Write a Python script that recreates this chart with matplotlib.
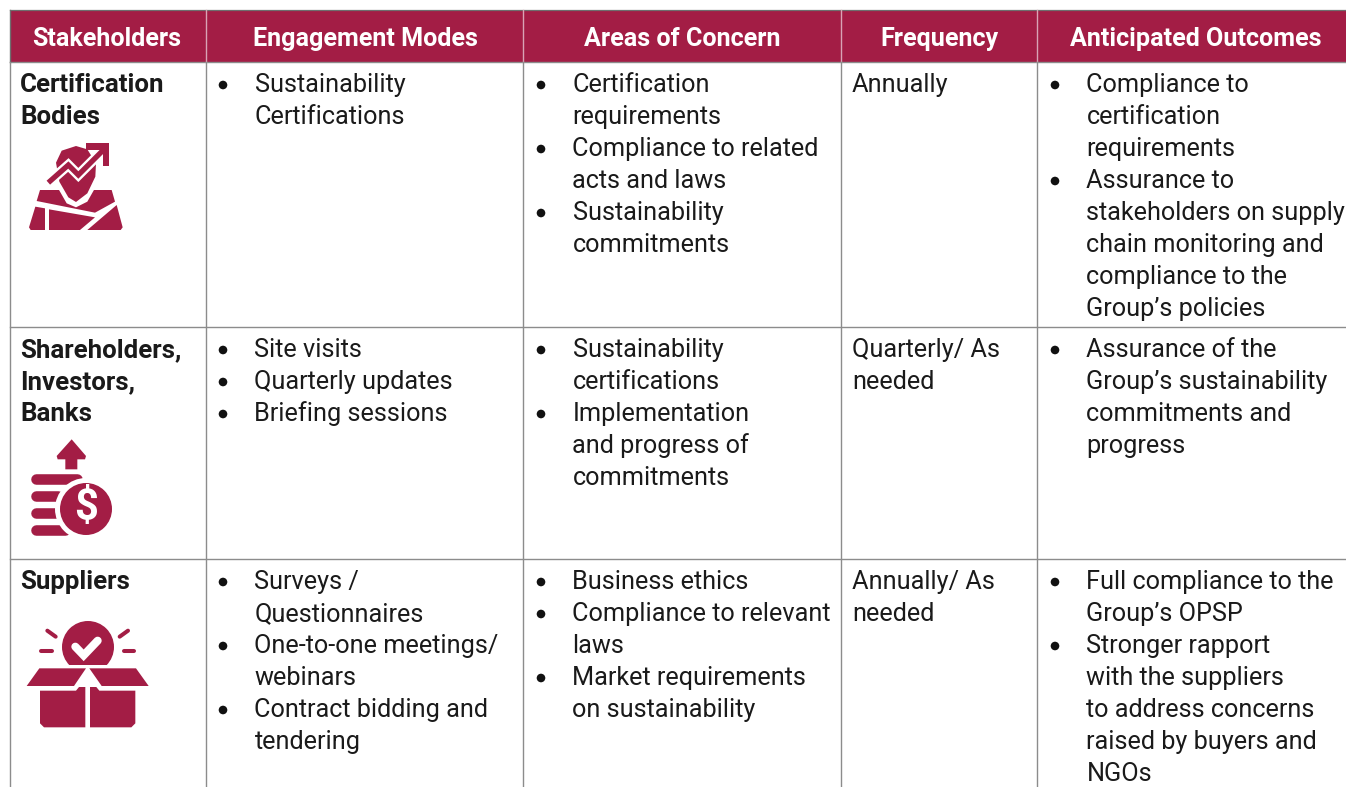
import matplotlib
matplotlib.use("Agg")
import matplotlib.pyplot as plt
from matplotlib.patches import Circle, Polygon, Rectangle

plt.rcParams["font.family"] = "Roboto"

CRIMSON = "#a31d45"
GRID = "#8c8c8c"
INK = "#1a1a1a"

headers = ["Stakeholders", "Engagement Modes", "Areas of Concern", "Frequency", "Anticipated Outcomes"]
col_edges = [10, 206, 523, 841, 1037, 1346]
row_edges = [10, 62, 327, 559, 787]

stakeholders = [
    ["Certification", "Bodies"],
    ["Shareholders,", "Investors,", "Banks"],
    ["Suppliers"],
]
engagement = [
    [["Sustainability", "Certifications"]],
    [["Site visits"], ["Quarterly updates"], ["Briefing sessions"]],
    [["Surveys /", "Questionnaires"], ["One-to-one meetings/", "webinars"], ["Contract bidding and", "tendering"]],
]
concerns = [
    [["Certification", "requirements"], ["Compliance to related", "acts and laws"], ["Sustainability", "commitments"]],
    [["Sustainability", "certifications"], ["Implementation", "and progress of", "commitments"]],
    [["Business ethics"], ["Compliance to relevant", "laws"], ["Market requirements", "on sustainability"]],
]
frequency = [
    ["Annually"],
    ["Quarterly/ As", "needed"],
    ["Annually/ As", "needed"],
]
outcomes = [
    [["Compliance to", "certification", "requirements"],
     ["Assurance to", "stakeholders on supply", "chain monitoring and", "compliance to the", "Group\u2019s policies"]],
    [["Assurance of the", "Group\u2019s sustainability", "commitments and", "progress"]],
    [["Full compliance to the", "Group\u2019s OPSP"],
     ["Stronger rapport", "with the suppliers", "to address concerns", "raised by buyers and", "NGOs"]],
]

LINE = 32
FS = 18.2
FS_BOLD = 18.6
FS_HEAD = 18.1


def plain_cell(ax, x, y, lines, size=FS, **kw):
    for i, t in enumerate(lines):
        ax.text(x, y + i * LINE, t, fontsize=size, va="center", ha="left", color=INK, **kw)


def bullet_cell(ax, x, y, items, text_dx):
    n = 0
    for item in items:
        ax.add_patch(Circle((x, y + n * LINE), 4.3, color="#111111", lw=0))
        for t in item:
            ax.text(x + text_dx, y + n * LINE, t, fontsize=FS, va="center", ha="left", color=INK)
            n += 1


def poly(ax, pts, color=CRIMSON, ox=0, oy=0, z=3):
    # icon outlines are taken from the 3x crops, so divide by 3 here
    ax.add_patch(Polygon([(ox + a / 3, oy + b / 3) for a, b in pts], closed=True, color=color, lw=0, zorder=z))


def stroke(ax, pts, width, color=CRIMSON, ox=0, oy=0, z=3, cap="round"):
    ax.plot([ox + a / 3 for a, b in pts], [oy + b / 3 for a, b in pts], color=color, lw=width,
            solid_capstyle=cap, solid_joinstyle="miter", zorder=z)


def icon_cert(ax):
    poly(ax, [(120, 570), (335, 570), (345, 605), (285, 638), (110, 603)])
    poly(ax, [(106, 620), (135, 625), (135, 690), (92, 690), (87, 682)])
    poly(ax, [(147, 628), (285, 652), (240, 690), (147, 690)])
    poly(ax, [(350, 615), (368, 682), (362, 690), (262, 690)])
    # white halo, then the pin
    poly(ax, [(160, 540), (200, 610), (228, 622), (262, 605), (296, 545), (296, 500)], color="white", z=4)
    poly(ax, [(168, 488), (185, 452), (228, 438), (262, 448), (288, 490), (286, 530), (262, 580), (228, 606),
              (205, 592), (178, 545)], z=5)
    stroke(ax, [(145, 548), (205, 495), (235, 525), (318, 442)], 7.2, color="white", z=6, cap="butt")
    stroke(ax, [(145, 548), (205, 495), (235, 525), (312, 448)], 3.8, z=7, cap="butt")
    poly(ax, [(258, 430), (328, 430), (328, 498), (310, 498), (310, 450), (258, 450)], z=7)


def icon_coins(ax):
    oy = 420
    poly(ax, [(215, 58), (258, 108), (255, 118), (232, 118), (232, 148), (196, 148), (196, 118), (173, 118),
              (170, 108)], oy=oy)
    for yy, right in zip([178, 228, 278, 329], [232, 175, 175, 195]):
        stroke(ax, [(108, yy), (right, yy)], 7.6, oy=oy)
    ax.add_patch(Circle((86, oy + 89), 31, color="white", lw=0, zorder=4))
    ax.add_patch(Circle((86, oy + 89), 26, color=CRIMSON, lw=0, zorder=5))
    ax.text(86, oy + 88, "$", color="white", fontsize=30, fontweight="bold", ha="center", va="center", zorder=6)


def icon_box(ax):
    oy = 600
    ax.add_patch(Circle((88, oy + 47), 26, color=CRIMSON, lw=0, zorder=3))
    ax.add_patch(Rectangle((55, oy + 65), 66, 22, color="white", lw=0, zorder=4))
    stroke(ax, [(226, 140), (251, 166), (293, 122)], 5.8, color="white", oy=oy, z=5)
    for seg in ([(142, 92), (167, 110)], [(384, 92), (359, 110)], [(124, 152), (155, 152)], [(372, 152), (402, 152)]):
        stroke(ax, seg, 2.9, oy=oy)
    poly(ax, [(118, 205), (258, 205), (222, 258), (80, 258)], oy=oy, z=5)
    poly(ax, [(268, 205), (408, 205), (446, 258), (305, 258)], oy=oy, z=5)
    poly(ax, [(120, 272), (228, 272), (256, 238), (256, 382), (132, 382), (120, 370)], oy=oy)
    poly(ax, [(270, 238), (298, 272), (406, 272), (406, 370), (394, 382), (270, 382)], oy=oy)


fig = plt.figure(figsize=(13.46, 7.87), dpi=100)
ax = fig.add_axes([0, 0, 1, 1])
ax.set_xlim(0, 1346)
ax.set_ylim(787, 0)
ax.axis("off")

ax.add_patch(Rectangle((col_edges[0], row_edges[0]), col_edges[-1] - col_edges[0], row_edges[1] - row_edges[0],
                       color=CRIMSON, lw=0, zorder=1))
head_x = [107, 365, 682, 939, 1196]
for x, h in zip(head_x, headers):
    ax.text(x, 39, h, color="white", fontsize=FS_HEAD, fontweight="bold", ha="center", va="center", zorder=2)

# grid lines
ax.plot([10, 1346], [10, 10], color="#6e6e6e", lw=0.9, zorder=2)
for y in row_edges[1:-1]:
    ax.plot([10, 1346], [y, y], color=GRID, lw=1, zorder=2)
for i, x in enumerate(col_edges[:-1]):
    ax.plot([x, x], [10, 62], color="#d9a3b5" if i else "#6e6e6e", lw=1, zorder=2)
    ax.plot([x, x], [62, 787], color=GRID, lw=1, zorder=2)

# first text line of each row
row_y = [85, 350, 582]
for r, y in enumerate(row_y):
    plain_cell(ax, 20, y, stakeholders[r], size=FS_BOLD, fontweight="bold")
    bullet_cell(ax, 223, y, engagement[r], 31.5)
    bullet_cell(ax, 541, y, concerns[r], 31.5)
    plain_cell(ax, 852, y, frequency[r])
    bullet_cell(ax, 1055, y, outcomes[r], 31.5)

icon_cert(ax)
icon_coins(ax)
icon_box(ax)

fig.savefig("out.png", dpi=100)
